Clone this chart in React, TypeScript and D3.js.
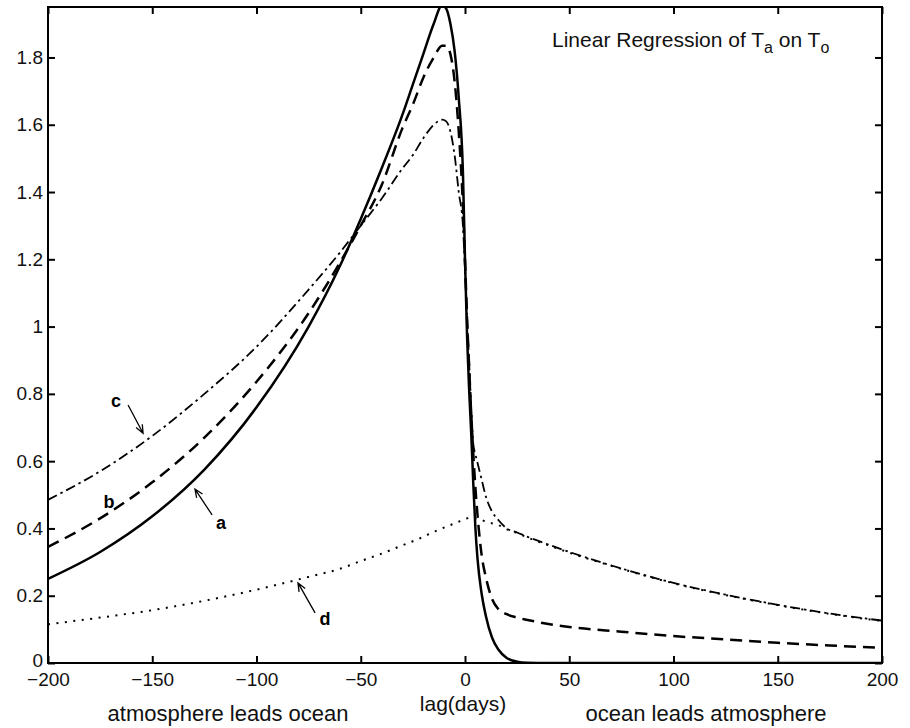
import * as d3 from 'd3';
import React, {useRef, useEffect} from 'react';

// lag in days, shared by all four curves
const lags = [-200,-175,-150,-125,-100,-75,-60,-50,-40,-30,-25,-20,-15,-11,-9,-7,-5,-3,-1,0,1,2,3,4,5,6,8,10,13,16,20,25,30,40,50,75,100,125,150,175,200];

const curveA = [0.25,0.33,0.436,0.575,0.76,1.0,1.18,1.32,1.47,1.63,1.72,1.81,1.9,1.955,1.945,1.9,1.82,1.68,1.46,1.2,0.97,0.81,0.68,0.53,0.4,0.31,0.205,0.14,0.075,0.04,0.015,0.004,0.001,0,0,0,0,0,0,0,0];
const curveB = [0.345,0.43,0.537,0.67,0.836,1.04,1.19,1.3,1.42,1.59,1.66,1.74,1.8,1.835,1.835,1.81,1.73,1.58,1.36,1.2,1.02,0.88,0.74,0.62,0.52,0.44,0.32,0.255,0.19,0.16,0.145,0.135,0.128,0.116,0.107,0.093,0.08,0.07,0.06,0.052,0.045];
const curveC = [0.485,0.57,0.675,0.8,0.94,1.11,1.22,1.3,1.38,1.47,1.51,1.56,1.6,1.615,1.61,1.58,1.51,1.4,1.3,1.17,1.03,0.89,0.76,0.65,0.62,0.595,0.545,0.495,0.45,0.425,0.4,0.388,0.375,0.352,0.33,0.281,0.238,0.203,0.173,0.147,0.126];
const curveD = [0.115,0.135,0.157,0.185,0.218,0.256,0.28,0.303,0.325,0.35,0.362,0.375,0.39,0.4,0.405,0.41,0.415,0.42,0.425,0.428,0.43,0.432,0.432,0.431,0.43,0.428,0.425,0.42,0.415,0.41,0.398,0.386,0.373,0.35,0.328,0.28,0.237,0.202,0.172,0.146,0.125];

const xTicks = [-200,-150,-100,-50,0,50,100,150,200];
const yTicks = [0,0.2,0.4,0.6,0.8,1,1.2,1.4,1.6,1.8];

// label name, label position, arrow tail, arrow tip (data coords)
const labels = [
  {name: 'c', at: [-167.4, 0.78], tail: [-161.6, 0.767], tip: [-154.4, 0.683]},
  {name: 'b', at: [-170.8, 0.478], tail: null, tip: null},
  {name: 'a', at: [-117, 0.416], tail: [-121.3, 0.44], tip: [-129.5, 0.517]},
  {name: 'd', at: [-67.1, 0.131], tail: [-71.9, 0.149], tip: [-80.1, 0.238]},
];

function App(){
    const ref = useRef(null);

    useEffect(() => {
        const W = 910, H = 728;
        const left = 48, right = 882, top = 7, bottom = 663;
        const font = '"Liberation Sans", Arial, Helvetica, sans-serif';

        const svg = d3.select(ref.current)
            .attr('width', W)
            .attr('height', H);
        svg.selectAll('*').remove();

        const x = d3.scaleLinear().domain([-200, 200]).range([left, right]);
        const y = d3.scaleLinear().domain([0, 1.95]).range([bottom, top]);

        svg.append('defs').append('clipPath').attr('id', 'plotclip')
            .append('rect')
            .attr('x', left).attr('y', top)
            .attr('width', right - left).attr('height', bottom - top);

        // axes, ticks pointing inward
        const styleAxis = g => {
            g.select('.domain').remove();
            g.selectAll('line').attr('stroke', '#000').attr('stroke-width', 2);
            g.selectAll('text').attr('fill', '#111').style('font-family', font).style('font-size', '19px');
        };
        svg.append('g').attr('transform', `translate(0,${bottom})`)
            .call(d3.axisBottom(x).tickValues(xTicks).tickSizeInner(-7).tickSizeOuter(0).tickPadding(10))
            .call(styleAxis);
        svg.append('g').attr('transform', `translate(0,${top})`)
            .call(d3.axisTop(x).tickValues(xTicks).tickSizeInner(-7).tickSizeOuter(0).tickFormat(() => ''))
            .call(styleAxis);
        const yAxis = svg.append('g').attr('transform', `translate(${left},0)`)
            .call(d3.axisLeft(y).tickValues(yTicks).tickSizeInner(-7).tickSizeOuter(0).tickPadding(5).tickFormat(d3.format('~g')))
            .call(styleAxis);
        // nudge the bottom "0" up a bit, as in the original
        yAxis.selectAll('.tick text').filter(d => d === 0).attr('y', -3);
        svg.append('g').attr('transform', `translate(${right},0)`)
            .call(d3.axisRight(y).tickValues(yTicks).tickSizeInner(-7).tickSizeOuter(0).tickFormat(() => ''))
            .call(styleAxis);

        svg.append('rect')
            .attr('x', left).attr('y', top)
            .attr('width', right - left).attr('height', bottom - top)
            .attr('fill', 'none').attr('stroke', '#000').attr('stroke-width', 2);

        // curves
        const line = d3.line()
            .x(d => x(d[0]))
            .y(d => y(d[1]))
            .curve(d3.curveMonotoneX);

        const series = [
            {vals: curveD, dash: '2 6.5', width: 2},
            {vals: curveC, dash: '10 4 2.5 4', width: 1.8},
            {vals: curveB, dash: '12 7', width: 2.5},
            {vals: curveA, dash: null, width: 2.5},
        ];
        const plot = svg.append('g').attr('clip-path', 'url(#plotclip)');
        series.forEach(s => {
            plot.append('path')
                .datum(lags.map((l, i) => [l, s.vals[i]]))
                .attr('d', line)
                .attr('fill', 'none')
                .attr('stroke', '#000')
                .attr('stroke-width', s.width)
                .attr('stroke-dasharray', s.dash);
        });

        // labels and arrows
        labels.forEach(lb => {
            svg.append('text')
                .attr('x', x(lb.at[0])).attr('y', y(lb.at[1]))
                .attr('text-anchor', 'middle')
                .attr('dominant-baseline', 'central')
                .style('font-family', font).style('font-size', '18px').style('font-weight', 'bold')
                .text(lb.name);
            if (lb.tail) {
                const x1 = x(lb.tail[0]), y1 = y(lb.tail[1]);
                const x2 = x(lb.tip[0]), y2 = y(lb.tip[1]);
                const ang = Math.atan2(y2 - y1, x2 - x1);
                const hl = 9, ha = 0.4;
                const p = d3.path();
                p.moveTo(x1, y1); p.lineTo(x2, y2);
                p.moveTo(x2 - hl * Math.cos(ang - ha), y2 - hl * Math.sin(ang - ha));
                p.lineTo(x2, y2);
                p.lineTo(x2 - hl * Math.cos(ang + ha), y2 - hl * Math.sin(ang + ha));
                svg.append('path').attr('d', p.toString())
                    .attr('fill', 'none').attr('stroke', '#000').attr('stroke-width', 1.3);
            }
        });

        // title
        const title = svg.append('text')
            .attr('x', 552).attr('y', 47)
            .style('font-family', font).style('font-size', '21px').attr('fill', '#111');
        title.append('tspan').text('Linear Regression of T');
        title.append('tspan').attr('dy', 6).style('font-size', '16px').text('a');
        title.append('tspan').attr('dy', -6).text(' on T');
        title.append('tspan').attr('dy', 6).style('font-size', '16px').text('o');

        // axis captions
        const cap = (tx, ty, str, size) => svg.append('text')
            .attr('x', tx).attr('y', ty)
            .attr('text-anchor', 'middle')
            .style('font-family', font).style('font-size', size).attr('fill', '#111')
            .text(str);
        cap(x(0) - 2, 711, 'lag(days)', '21px');
        cap(228, 721, 'atmosphere leads ocean', '22px');
        cap(706, 721, 'ocean leads atmosphere', '22px');
    }, []);

    return (
        <svg ref={ref} style={{position: 'absolute', left: 0, top: 0, background: '#fff'}}>
        </svg>
    );
}

export default App;
